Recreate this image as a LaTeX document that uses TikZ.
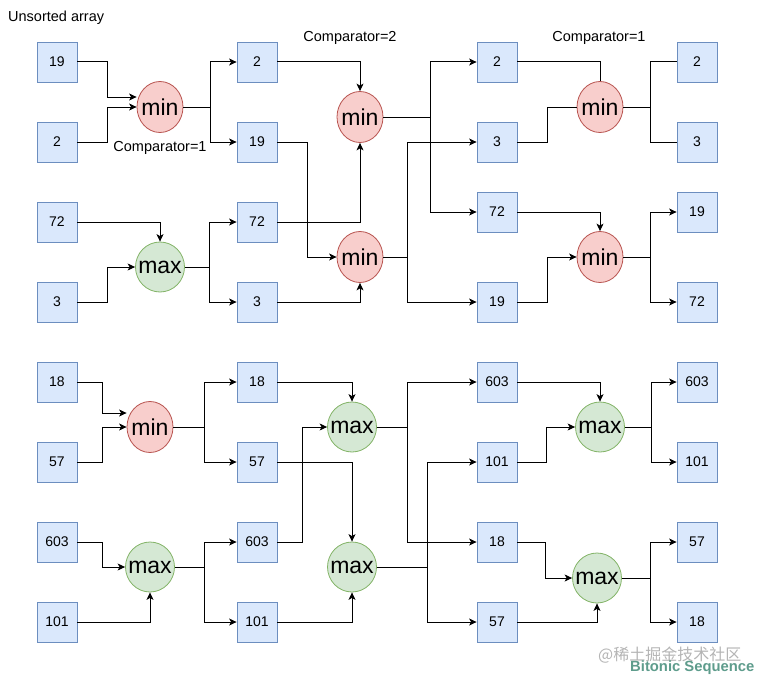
\documentclass[tikz,border=0pt]{standalone}
\usepackage{fontspec}
\setmainfont{Liberation Sans}
\newfontfamily\cjk{Noto Sans CJK SC}
\usetikzlibrary{arrows.meta,shapes.geometric}
\definecolor{boxfill}{HTML}{DAE8FC}
\definecolor{boxdraw}{HTML}{6C8EBF}
\definecolor{minfill}{HTML}{F8CECC}
\definecolor{mindraw}{HTML}{B85450}
\definecolor{maxfill}{HTML}{D5E8D4}
\definecolor{maxdraw}{HTML}{82B366}
\definecolor{wmgray}{HTML}{B4B4B4}
\definecolor{wmgreen}{HTML}{5E9C8C}
\begin{document}
\begin{tikzpicture}[x=1pt,y=-1pt,
  valbox/.style={draw=boxdraw,fill=boxfill,minimum width=40pt,minimum height=40pt,inner sep=0pt,font=\fontsize{14}{16}\selectfont,line width=0.8pt},
  cmpfont/.style={font=\fontsize{23}{24}\selectfont,inner sep=0pt},
  minnode/.style={ellipse,draw=mindraw,fill=minfill,minimum width=46pt,minimum height=51pt,inner sep=0pt,line width=0.8pt,label={[cmpfont]center:#1}},
  maxnode/.style={ellipse,draw=maxdraw,fill=maxfill,minimum width=49pt,minimum height=50pt,inner sep=0pt,line width=0.8pt,label={[cmpfont]center:#1}},
  lbl/.style={font=\fontsize{14.5}{16}\selectfont,inner sep=0pt},
  arr/.style={draw=black,line width=1pt,-{Stealth[length=7.5pt,width=7pt,inset=2pt]}},
  ln/.style={draw=black,line width=1pt}
]
\useasboundingbox (0,0) rectangle (760,685);
% column 1
\node[valbox] (a1) at (57,62) {19};
\node[valbox] (a2) at (57,142) {2};
\node[valbox] (a3) at (57,222) {72};
\node[valbox] (a4) at (57,302) {3};
\node[valbox] (a5) at (57,382) {18};
\node[valbox] (a6) at (57,462) {57};
\node[valbox] (a7) at (57,542) {603};
\node[valbox] (a8) at (57,622) {101};
% column 2
\node[valbox] (b1) at (257,62) {2};
\node[valbox] (b2) at (257,142) {19};
\node[valbox] (b3) at (257,222) {72};
\node[valbox] (b4) at (257,302) {3};
\node[valbox] (b5) at (257,382) {18};
\node[valbox] (b6) at (257,462) {57};
\node[valbox] (b7) at (257,542) {603};
\node[valbox] (b8) at (257,622) {101};
% column 3
\node[valbox] (c1) at (497,62) {2};
\node[valbox] (c2) at (497,142) {3};
\node[valbox] (c3) at (497,212) {72};
\node[valbox] (c4) at (497,302) {19};
\node[valbox] (c5) at (497,382) {603};
\node[valbox] (c6) at (497,462) {101};
\node[valbox] (c7) at (497,542) {18};
\node[valbox] (c8) at (497,622) {57};
% column 4
\node[valbox] (d1) at (697,62) {2};
\node[valbox] (d2) at (697,142) {3};
\node[valbox] (d3) at (697,212) {19};
\node[valbox] (d4) at (697,302) {72};
\node[valbox] (d5) at (697,382) {603};
\node[valbox] (d6) at (697,462) {101};
\node[valbox] (d7) at (697,542) {57};
\node[valbox] (d8) at (697,622) {18};
% comparators
\node[minnode=min] (m1) at (160,107) {};
\node[maxnode=max] (x1) at (160,267) {};
\node[minnode=min] (m2) at (360,117) {};
\node[minnode=min] (m3) at (360,257) {};
\node[minnode=min] (m4) at (600,107) {};
\node[minnode=min] (m5) at (600,257) {};
\node[minnode=min] (m6) at (150,427) {};
\node[maxnode=max] (x2) at (150,567) {};
\node[maxnode=max] (x3) at (352,427) {};
\node[maxnode=max] (x4) at (352,567) {};
\node[maxnode=max] (x5) at (600,427) {};
\node[maxnode=max] (x6) at (597,578) {};
% labels
\node[lbl,anchor=west] (t0) at (8,18) {Unsorted array};
\node[lbl] (t1) at (160,148) {Comparator=1};
\node[lbl] (t2) at (350,38) {Comparator=2};
\node[lbl] (t3) at (599,38) {Comparator=1};
\node[inner sep=0pt,anchor=west,text=wmgray,font=\cjk\fontsize{16}{18}\selectfont] (w1) at (598,655) {@稀土掘金技术社区};
\node[inner sep=0pt,anchor=west,text=wmgreen,font=\bfseries\fontsize{14.8}{16}\selectfont] (w2) at (630,668) {Bitonic Sequence};
% ---- top, stage 1
\draw[arr] (a1.east) -- ++(30,0) |- ([yshift=10pt]m1.west);
\draw[arr] (a2.east) -- ++(30,0) |- (m1.west);
\draw[arr] (m1.east) -- ++(27,0) |- (b1.west);
\draw[arr] (m1.east) -- ++(27,0) |- (b2.west);
\draw[arr] (a3.east) -| (x1.north);
\draw[arr] (a4.east) -- ++(30,0) |- (x1.west);
\draw[arr] (x1.east) -- ++(25,0) |- (b3.west);
\draw[arr] (x1.east) -- ++(25,0) |- (b4.west);
% ---- top, stage 2
\draw[arr] (b1.east) -| (m2.north);
\draw[arr] (b3.east) -| (m2.south);
\draw[arr] (b2.east) -- ++(30,0) |- (m3.west);
\draw[arr] (b4.east) -| (m3.south);
\draw[arr] (m2.east) -- ++(47,0) |- (c1.west);
\draw[arr] (m2.east) -- ++(47,0) |- (c3.west);
\draw[arr] (m3.east) -- ++(24,0) |- (c2.west);
\draw[arr] (m3.east) -- ++(24,0) |- (c4.west);
% ---- top, stage 3
\draw[ln] (c1.east) -| (m4.north);
\draw[ln] (c2.east) -- ++(30,0) |- (m4.west);
\draw[ln] (m4.east) -- ++(27,0) |- (d1.west);
\draw[ln] (m4.east) -- ++(27,0) |- (d2.west);
\draw[arr] (c3.east) -| (m5.north);
\draw[arr] (c4.east) -- ++(30,0) |- (m5.west);
\draw[arr] (m5.east) -- ++(27,0) |- (d3.west);
\draw[arr] (m5.east) -- ++(27,0) |- (d4.west);
% ---- bottom, stage 1
\draw[arr] (a5.east) -- ++(25,0) |- ([yshift=14pt]m6.west);
\draw[arr] (a6.east) -- ++(25,0) |- (m6.west);
\draw[arr] (m6.east) -- ++(31,0) |- (b5.west);
\draw[arr] (m6.east) -- ++(31,0) |- (b6.west);
\draw[arr] (a7.east) -- ++(25,0) |- (x2.west);
\draw[arr] (a8.east) -| (x2.south);
\draw[arr] (x2.east) -- ++(29.5,0) |- (b7.west);
\draw[arr] (x2.east) -- ++(29.5,0) |- (b8.west);
% ---- bottom, stage 2
\draw[arr] (b5.east) -| (x3.north);
\draw[arr] (b7.east) -- ++(25,0) |- (x3.west);
\draw[arr] (b6.east) -| (x4.north);
\draw[arr] (b8.east) -| (x4.south);
\draw[arr] (x3.east) -- ++(30.5,0) |- (c5.west);
\draw[arr] (x3.east) -- ++(30.5,0) |- (c7.west);
\draw[arr] (x4.east) -- ++(50.5,0) |- (c6.west);
\draw[arr] (x4.east) -- ++(50.5,0) |- (c8.west);
% ---- bottom, stage 3
\draw[arr] (c5.east) -| (x5.north);
\draw[arr] (c6.east) -- ++(29,0) |- (x5.west);
\draw[arr] (x5.east) -- ++(26.5,0) |- (d5.west);
\draw[arr] (x5.east) -- ++(26.5,0) |- (d6.west);
\draw[arr] (c7.east) -- ++(28,0) |- (x6.west);
\draw[arr] (c8.east) -| (x6.south);
\draw[arr] (x6.east) -- ++(28.5,0) |- (d7.west);
\draw[arr] (x6.east) -- ++(28.5,0) |- (d8.west);
\end{tikzpicture}
\end{document}
